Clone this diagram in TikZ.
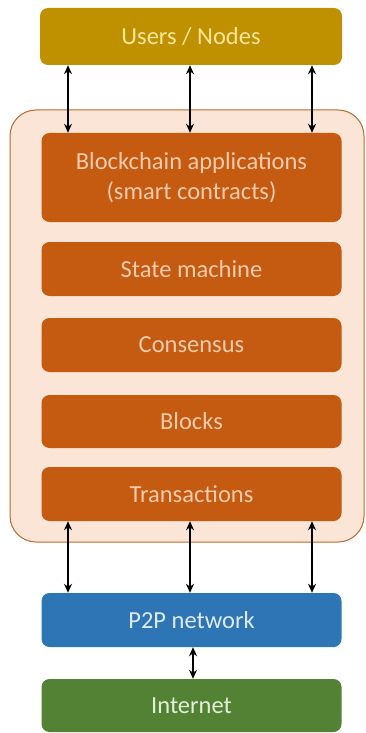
\documentclass[tikz,border=0pt]{standalone}
\usepackage{fontspec}
\setmainfont{Carlito}
\usetikzlibrary{arrows.meta}
\definecolor{gold}{HTML}{BF9000}
\definecolor{goldtxt}{HTML}{FFE699}
\definecolor{rust}{HTML}{C55A11}
\definecolor{rusttxt}{HTML}{F8CBAD}
\definecolor{peach}{HTML}{FBE5D6}
\definecolor{peachline}{HTML}{B8692E}
\definecolor{blue1}{HTML}{2E75B6}
\definecolor{bluetxt}{HTML}{DEEBF7}
\definecolor{green1}{HTML}{548235}
\definecolor{greentxt}{HTML}{E2F0D9}
\begin{document}
\begin{tikzpicture}[x=1pt,y=-1pt,
  layer/.style={rounded corners=8pt, minimum width=300pt, inner sep=0pt, align=center, font=\fontsize{24.5}{30}\selectfont},
  orange/.style={layer, fill=rust, text=rusttxt},
  arr/.style={{Stealth[length=9pt,width=8pt]}-{Stealth[length=9pt,width=8pt]}, line width=1.3pt, black}]
\useasboundingbox (0,0) rectangle (366,733);
\draw[fill=peach, draw=peachline, line width=1pt, rounded corners=26pt] (10,110) rectangle (364,542);
\node[layer, fill=gold, text=goldtxt, minimum width=302pt, minimum height=57pt] (users) at (191,36.5) {Users / Nodes};
\node[orange, minimum height=89pt] (app) at (191.5,177.5) {Blockchain applications\\(smart contracts)};
\node[orange, minimum height=54pt] (state) at (191.5,269) {State machine};
\node[orange, minimum height=54pt] (cons) at (191.5,345) {Consensus};
\node[orange, minimum height=53pt] (blocks) at (191.5,421.5) {Blocks};
\node[orange, minimum height=54pt] (tx) at (191.5,494) {Transactions};
\node[layer, fill=blue1, text=bluetxt, minimum height=54pt] (p2p) at (191.5,620) {P2P network};
\node[layer, fill=green1, text=greentxt, minimum height=53pt] (inet) at (191.5,705.5) {Internet};
\coordinate (xa) at (68,0);
\coordinate (xb) at (190,0);
\coordinate (xc) at (312,0);
\coordinate (xd) at (193,0);
\foreach \c in {xa,xb,xc}{
  \draw[arr] (users.south -| \c) -- (app.north -| \c);
  \draw[arr] (tx.south -| \c) -- (p2p.north -| \c);
}
\draw[arr] (p2p.south -| xd) -- (inet.north -| xd);
\end{tikzpicture}
\end{document}
